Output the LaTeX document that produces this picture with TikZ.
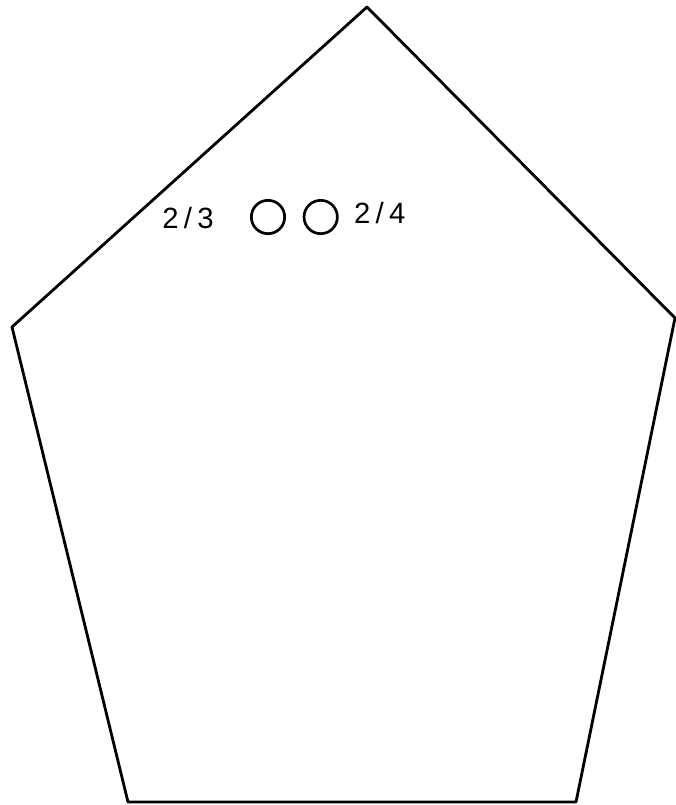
\documentclass[tikz,border=0pt]{standalone}
\usepackage{fontspec}
\setmainfont{Liberation Sans}
\usetikzlibrary{positioning}
\tikzset{
  edge/.style  = {draw, line width=2.4pt, line join=round},
  hole/.style  = {draw, circle, line width=2.3pt, minimum size=1.0cm, inner sep=0pt},
  lbl/.style   = {inner sep=1pt, font=\fontsize{25}{30}\selectfont\addfontfeature{LetterSpace=18}}
}

\begin{document}
\begin{tikzpicture}[x=0.03cm, y=-0.03cm]
  \useasboundingbox (0,0) rectangle (676,805);

  % outline of the plate
  \coordinate (top) at (367,7);
  \coordinate (rgt) at (675,318);
  \coordinate (br)  at (576,802);
  \coordinate (bl)  at (128,802);
  \coordinate (lft) at (12,327);
  \draw[edge] (top) -- (rgt) -- (br) -- (bl) -- (lft) -- cycle;

  % the two holes
  \node[hole] (h3) at (268,217) {};
  \node[hole, right=0.5cm of h3] (h4) {};

  \node[lbl, left=1.05cm of h3, yshift=-1pt] (l3) {2/3};
  \node[lbl, right=0.42cm of h4, yshift=3pt] (l4) {2/4};
\end{tikzpicture}
\end{document}
